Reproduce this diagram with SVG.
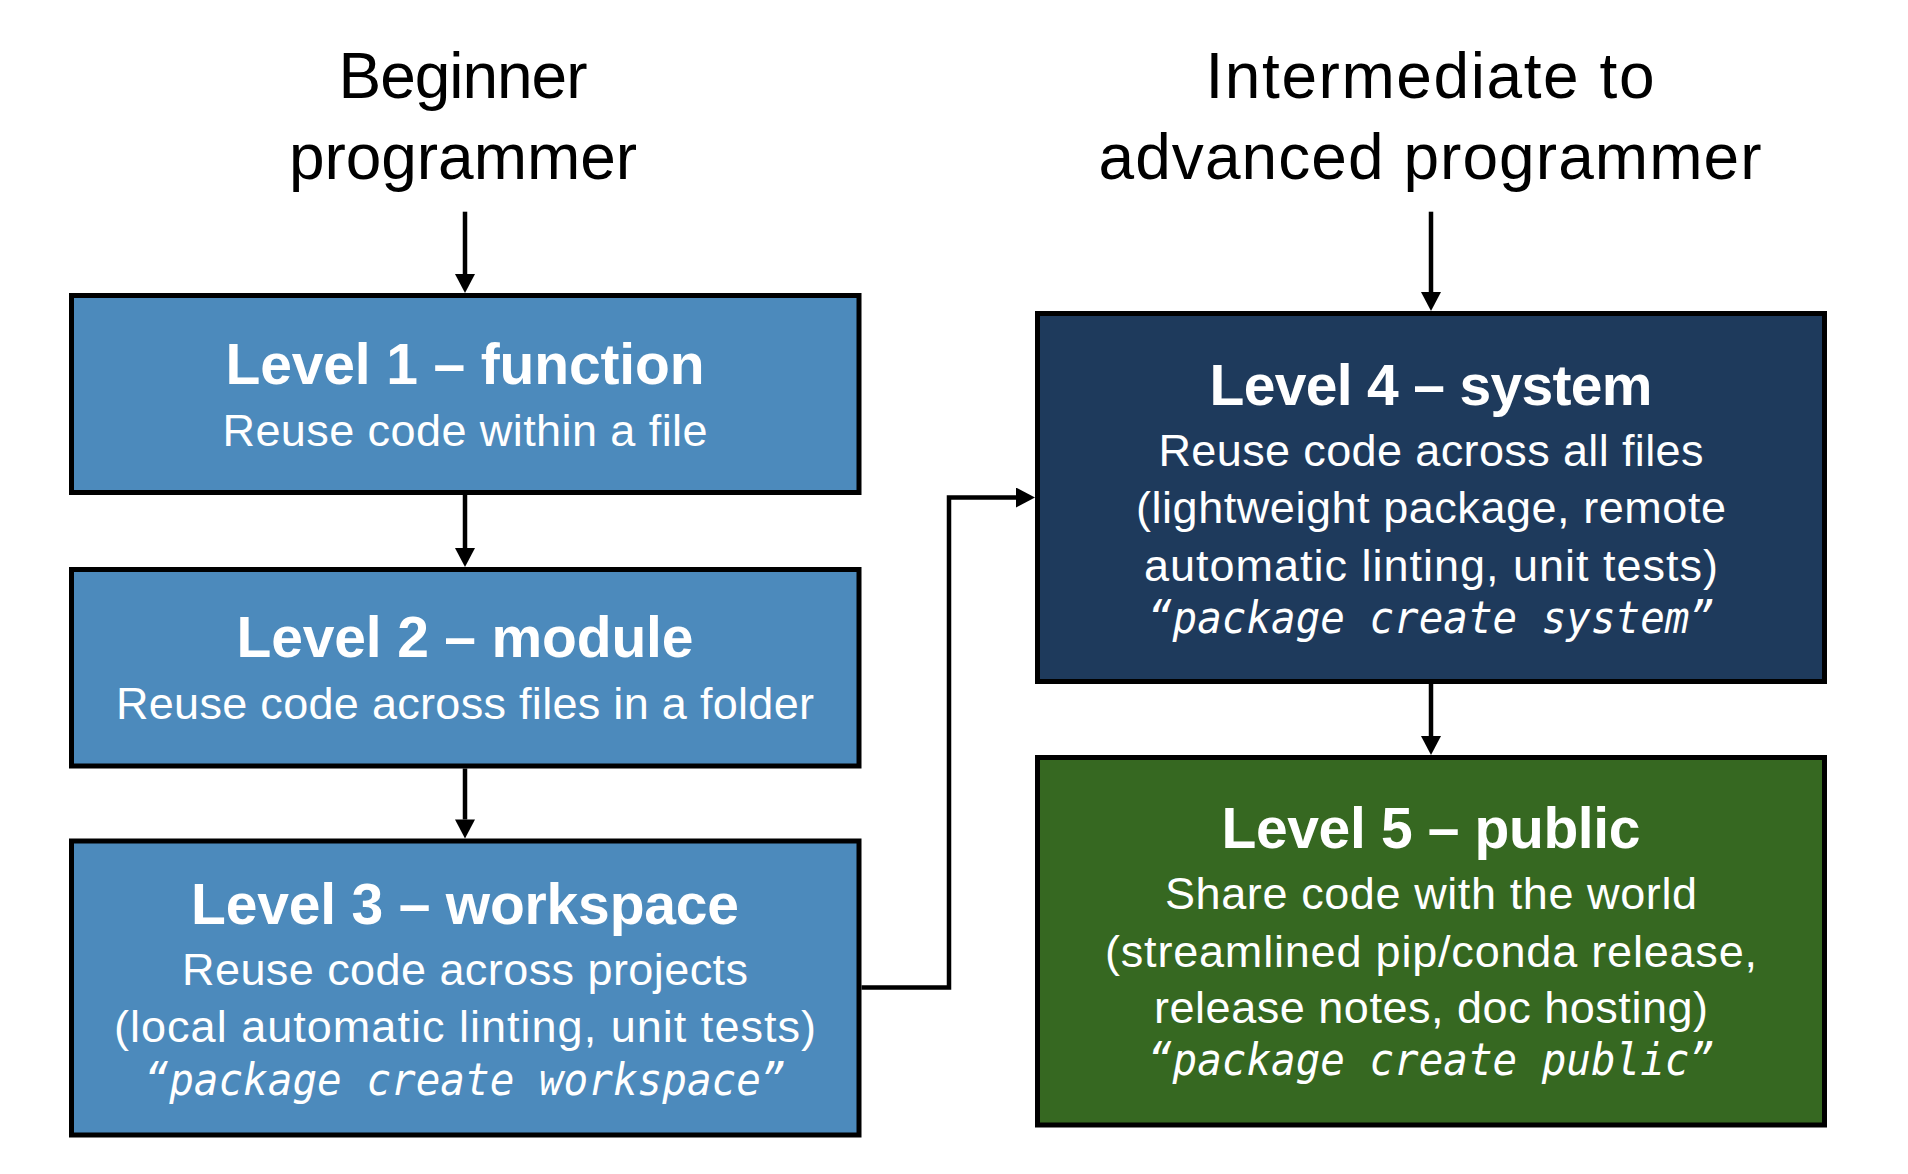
<svg xmlns="http://www.w3.org/2000/svg" width="1908" height="1174" viewBox="0 0 1908 1174">
<defs>
<style>
.box{stroke:#000;stroke-width:5}
.b1{fill:#4C8ABC}
.b4{fill:#1E3A5C}
.b5{fill:#366821}
.head{font-family:"Liberation Sans",Arial,sans-serif;font-size:64px;fill:#000;text-anchor:middle}
.title{font-family:"Liberation Sans",Arial,sans-serif;font-weight:bold;font-size:57px;fill:#fff;text-anchor:middle}
.sub{font-family:"Liberation Sans",Arial,sans-serif;font-size:45px;fill:#fff;text-anchor:middle}
.mono{font-family:"DejaVu Sans Mono","Liberation Mono",monospace;font-style:italic;font-size:44px;fill:#fff;text-anchor:middle}
.conn{fill:none;stroke:#000;stroke-width:4.5}
</style>
<marker id="arr" markerUnits="userSpaceOnUse" markerWidth="20" markerHeight="20" refX="0" refY="10" orient="auto" viewBox="0 0 19 20">
<path d="M0,0 L19,10 L0,20 Z" fill="#000"/>
</marker>
</defs>
<rect width="1908" height="1174" fill="#fff"/>

<g id="heading-beginner">
<text class="head" x="463" y="98" textLength="249" lengthAdjust="spacing">Beginner</text>
<text class="head" x="463" y="179" textLength="348" lengthAdjust="spacing">programmer</text>
</g>
<g id="heading-advanced">
<text class="head" x="1430" y="98" textLength="449" lengthAdjust="spacing">Intermediate to</text>
<text class="head" x="1430" y="179" textLength="663" lengthAdjust="spacing">advanced programmer</text>
</g>

<g id="level1">
<rect class="box b1" x="71.5" y="295.5" width="787.5" height="197"/>
<text class="title" x="465" y="384" textLength="479" lengthAdjust="spacing">Level 1 – function</text>
<text class="sub" x="465" y="446" textLength="485" lengthAdjust="spacing">Reuse code within a file</text>
</g>
<g id="level2">
<rect class="box b1" x="71.5" y="569.5" width="787.5" height="196.5"/>
<text class="title" x="465" y="657" textLength="457" lengthAdjust="spacing">Level 2 – module</text>
<text class="sub" x="465" y="719" textLength="698" lengthAdjust="spacing">Reuse code across files in a folder</text>
</g>
<g id="level3">
<rect class="box b1" x="71.5" y="841" width="787.5" height="294"/>
<text class="title" x="465" y="924" textLength="548" lengthAdjust="spacing">Level 3 – workspace</text>
<text class="sub" x="465" y="985" textLength="566" lengthAdjust="spacing">Reuse code across projects</text>
<text class="sub" x="465" y="1042" textLength="702" lengthAdjust="spacing">(local automatic linting, unit tests)</text>
<text class="mono" x="465" y="1095" textLength="641" lengthAdjust="spacingAndGlyphs">“package create workspace”</text>
</g>
<g id="level4">
<rect class="box b4" x="1037.5" y="313.5" width="787" height="368"/>
<text class="title" x="1431" y="405" textLength="443" lengthAdjust="spacing">Level 4 – system</text>
<text class="sub" x="1431" y="466" textLength="545" lengthAdjust="spacing">Reuse code across all files</text>
<text class="sub" x="1431" y="523" textLength="590" lengthAdjust="spacing">(lightweight package, remote</text>
<text class="sub" x="1431" y="581" textLength="574" lengthAdjust="spacing">automatic linting, unit tests)</text>
<text class="mono" x="1431" y="633" textLength="566" lengthAdjust="spacingAndGlyphs">“package create system”</text>
</g>
<g id="level5">
<rect class="box b5" x="1037.5" y="757.5" width="787" height="367.5"/>
<text class="title" x="1431" y="848" textLength="419" lengthAdjust="spacing">Level 5 – public</text>
<text class="sub" x="1431" y="909" textLength="532" lengthAdjust="spacing">Share code with the world</text>
<text class="sub" x="1431" y="967" textLength="652" lengthAdjust="spacing">(streamlined pip/conda release,</text>
<text class="sub" x="1431" y="1023" textLength="554" lengthAdjust="spacing">release notes, doc hosting)</text>
<text class="mono" x="1431" y="1075" textLength="566" lengthAdjust="spacingAndGlyphs">“package create public”</text>
</g>

<g id="connectors">
<path class="conn" d="M465,211.7 V274" marker-end="url(#arr)"/>
<path class="conn" d="M465,494.5 V548" marker-end="url(#arr)"/>
<path class="conn" d="M465,768.5 V819.5" marker-end="url(#arr)"/>
<path class="conn" d="M861.5,987.5 H949 V497.5 H1016" marker-end="url(#arr)"/>
<path class="conn" d="M1431,211.7 V292" marker-end="url(#arr)"/>
<path class="conn" d="M1431,683.7 V736" marker-end="url(#arr)"/>
</g>
</svg>
